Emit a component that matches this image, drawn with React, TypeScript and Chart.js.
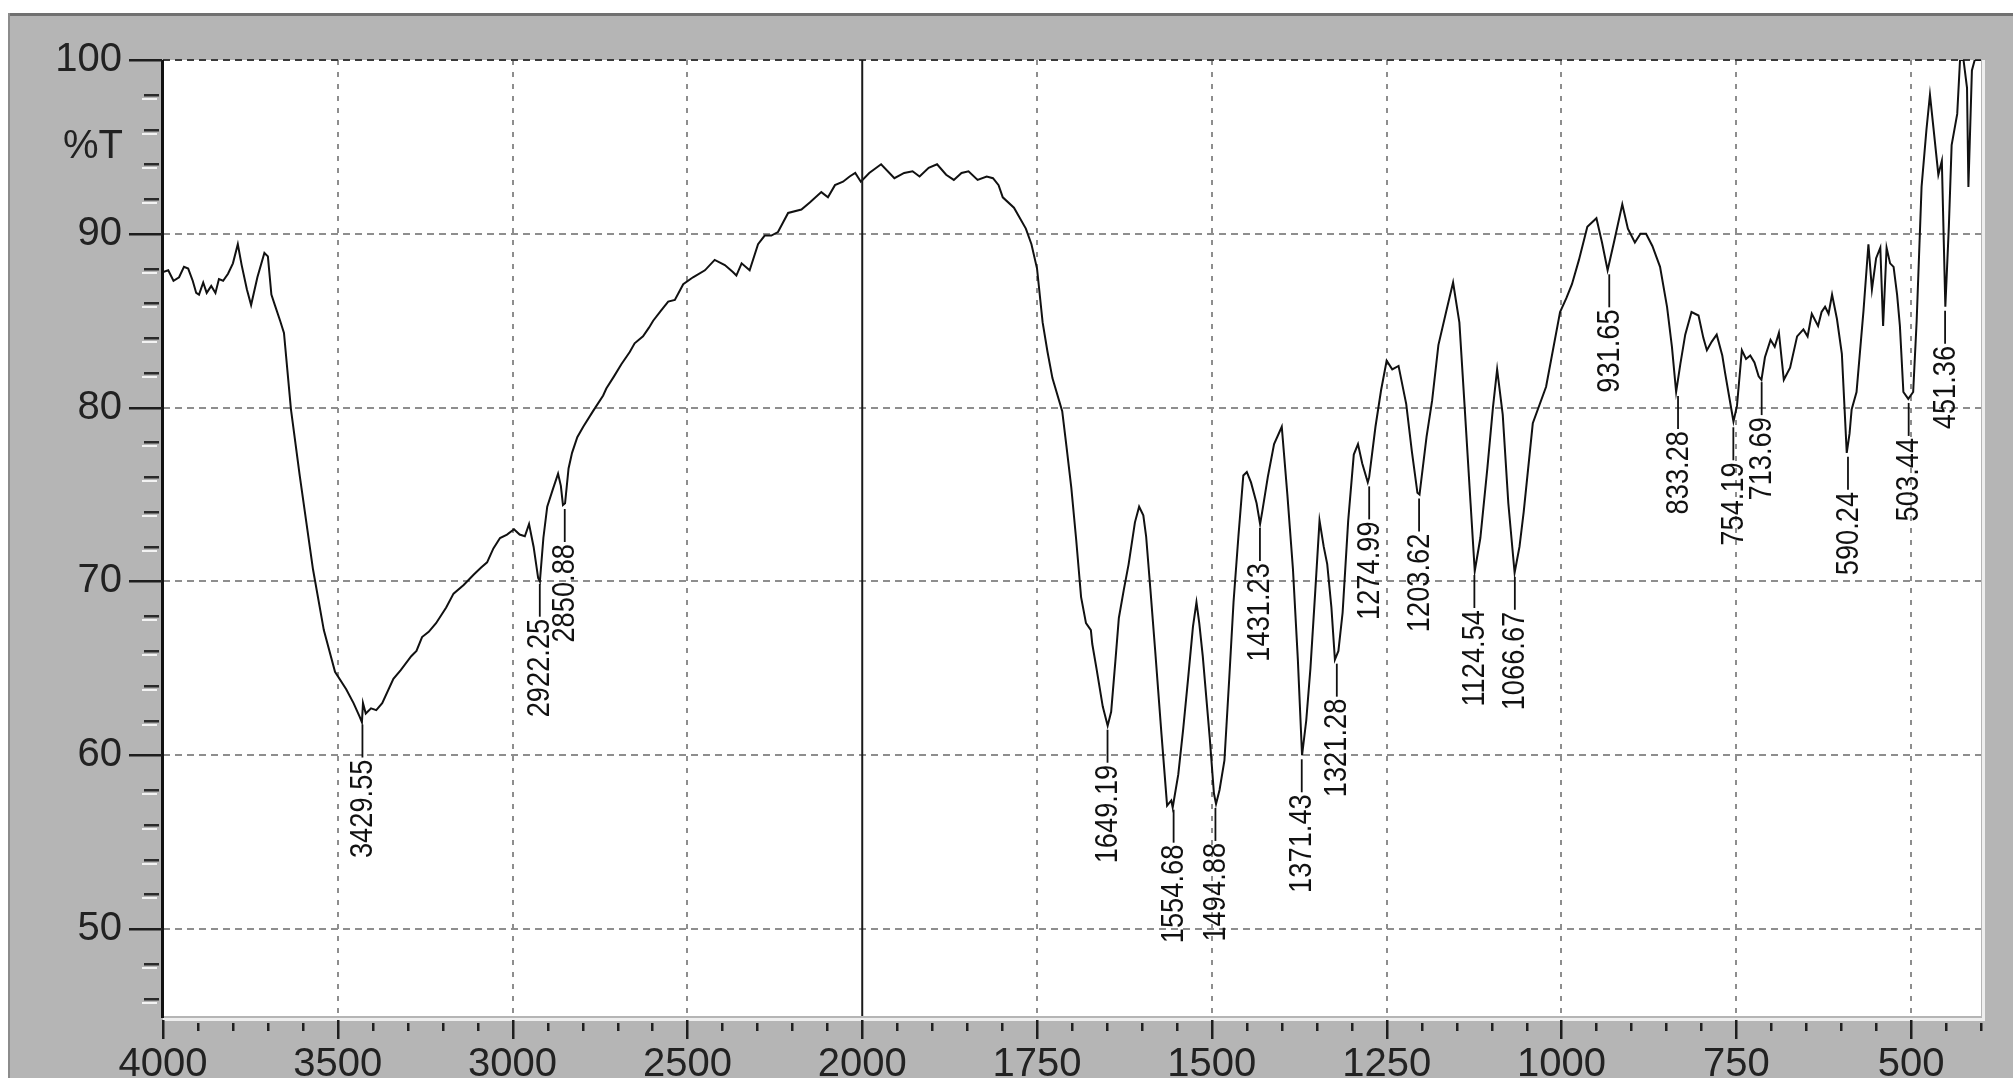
import React, { useEffect, useRef } from "react";
import { Chart, registerables } from "chart.js";

Chart.register(...registerables);

// ---------------- data ----------------
const wavenumbers: number[] = [
  4000, 3985, 3970, 3954, 3940, 3928, 3915, 3905, 3897, 3885, 3875, 3862, 3850, 3840, 3828, 3814, 3800, 3786, 3775, 3760,
  3748, 3730, 3710, 3700, 3690, 3680, 3665, 3654, 3634, 3609, 3590, 3571, 3540, 3508, 3476, 3455, 3437, 3431, 3428, 3420,
  3405, 3390, 3373, 3341, 3320, 3290, 3275, 3259, 3240, 3219, 3190, 3169, 3140, 3111, 3090, 3073, 3055, 3036, 3016, 2996,
  2980, 2965, 2953, 2940, 2927, 2922, 2912, 2901, 2885, 2870, 2862, 2856, 2850, 2840, 2830, 2815, 2798, 2770, 2741, 2732,
  2710, 2689, 2665, 2651, 2627, 2610, 2598, 2575, 2555, 2536, 2512, 2484, 2450, 2422, 2393, 2370, 2360, 2345, 2322, 2298,
  2279, 2260, 2241, 2212, 2174, 2150, 2117, 2098, 2078, 2055, 2036, 2020, 2004,
  1990, 1973, 1954, 1940, 1928, 1918, 1905, 1893, 1880, 1869, 1858, 1848, 1835, 1822, 1813, 1805, 1799, 1783, 1766, 1758,
  1750, 1742, 1735, 1728, 1714, 1708, 1701, 1694, 1687, 1680, 1673, 1671, 1665, 1656, 1649, 1644, 1638, 1633, 1626, 1619,
  1610, 1604, 1598, 1594, 1588, 1581, 1572, 1564, 1558, 1556, 1548, 1541, 1534, 1527, 1522, 1518, 1513, 1503, 1497, 1494,
  1489, 1482, 1475, 1469, 1462, 1455, 1450, 1444, 1436, 1431, 1428, 1420, 1411, 1400, 1392, 1384, 1377, 1371, 1365, 1359,
  1352, 1346, 1340, 1335, 1329, 1324, 1319, 1313, 1305, 1297, 1291, 1285, 1277, 1275, 1266, 1258, 1250, 1242, 1233, 1222,
  1214, 1206, 1203, 1193, 1185, 1176, 1165, 1155, 1146, 1139, 1130, 1124, 1116, 1106, 1098, 1092, 1084, 1076, 1067, 1060,
  1054, 1041, 1022, 1002, 993, 985, 975, 963, 950, 942, 934, 925, 913, 905, 895, 887, 879, 870, 859, 849,
  842, 836, 830, 823, 814, 804, 797, 792, 785, 778, 770, 766, 760, 754, 749, 742, 736, 730, 724, 718,
  714, 709, 701, 695, 689, 682, 673, 663, 654, 648, 642, 633, 628, 623, 618, 613, 606, 599, 592, 588,
  585, 578, 568, 561, 556, 550, 544, 540, 535, 530, 525, 520, 516, 511, 504, 497, 492, 485, 478, 473,
  468, 461, 456, 451, 446, 442, 434, 430, 425, 420, 418, 413, 409, 400,
];

const transmittance: number[] = [
  87.8, 87.9, 87.3, 87.5, 88.1, 88.0, 87.3, 86.6, 86.5, 87.2, 86.6, 87.0, 86.6, 87.4, 87.3, 87.7, 88.3, 89.4, 88.2, 86.8,
  85.9, 87.5, 88.9, 88.7, 86.5, 85.9, 85.0, 84.3, 79.9, 76.1, 73.4, 70.7, 67.2, 64.8, 63.8, 63.0, 62.2, 61.9, 63.0, 62.4,
  62.7, 62.6, 63.0, 64.4, 64.9, 65.7, 66.0, 66.8, 67.1, 67.6, 68.5, 69.3, 69.8, 70.4, 70.8, 71.1, 71.9, 72.5, 72.7, 73.0,
  72.7, 72.6, 73.3, 72.0, 70.2, 70.0, 72.5, 74.3, 75.3, 76.2, 75.5, 74.4, 74.5, 76.5, 77.4, 78.3, 78.9, 79.8, 80.7, 81.1,
  81.8, 82.5, 83.2, 83.7, 84.1, 84.6, 85.0, 85.6, 86.1, 86.2, 87.1, 87.5, 87.9, 88.5, 88.2, 87.8, 87.6, 88.3, 87.9, 89.4,
  89.9, 89.9, 90.1, 91.2, 91.4, 91.8, 92.4, 92.1, 92.8, 93.0, 93.3, 93.5, 93.0,
  93.5, 94.0, 93.2, 93.5, 93.6, 93.3, 93.8, 94.0, 93.4, 93.1, 93.5, 93.6, 93.1, 93.3, 93.2, 92.8, 92.1, 91.5, 90.3, 89.4,
  88.0, 84.9, 83.2, 81.7, 79.8, 77.8, 75.4, 72.4, 69.1, 67.6, 67.2, 66.4, 65.0, 62.8, 61.7, 62.5, 65.4, 67.9, 69.5, 71.0,
  73.4, 74.3, 73.8, 72.6, 69.6, 66.0, 61.2, 57.1, 57.4, 57.0, 58.9, 61.5, 64.4, 67.4, 68.8, 67.6, 65.7, 61.0, 57.8, 57.2,
  58.0, 59.7, 64.5, 68.8, 72.6, 76.1, 76.3, 75.7, 74.5, 73.3, 74.0, 76.0, 77.9, 78.9, 75.0, 70.7, 65.5, 60.0, 62.0, 65.0,
  69.5, 73.5, 72.0, 71.0, 68.5, 65.5, 66.0, 68.2, 73.5, 77.3, 77.9, 76.8, 75.7, 76.0, 78.9, 81.0, 82.7, 82.2, 82.4, 80.2,
  77.5, 75.1, 75.0, 78.3, 80.4, 83.6, 85.5, 87.2, 84.9, 80.4, 74.5, 70.6, 72.5, 76.5, 80.0, 82.2, 79.6, 74.5, 70.5, 72.0,
  74.0, 79.1, 81.2, 85.5, 86.3, 87.1, 88.5, 90.4, 90.9, 89.5, 87.9, 89.5, 91.7, 90.3, 89.5, 90.0, 90.0, 89.3, 88.1, 85.8,
  83.5, 80.9, 82.5, 84.2, 85.5, 85.3, 84.0, 83.3, 83.8, 84.2, 83.0, 82.0, 80.6, 79.2, 80.1, 83.3, 82.8, 83.0, 82.6, 81.8,
  81.6, 82.9, 83.9, 83.5, 84.3, 81.6, 82.3, 84.1, 84.5, 84.1, 85.4, 84.7, 85.5, 85.8, 85.4, 86.5, 85.1, 83.1, 77.4, 78.5,
  79.9, 80.9, 85.6, 89.4, 86.8, 88.6, 89.2, 84.7, 89.2, 88.3, 88.1, 86.5, 84.7, 80.9, 80.5, 80.9, 85.0, 92.7, 96.0, 98.0,
  96.1, 93.4, 94.2, 85.8, 90.4, 95.1, 96.9, 100, 100, 98.4, 92.7, 99.4, 100, 100,
];

const xTickLabels: string[] = ["4000", "3500", "3000", "2500", "2000", "1750", "1500", "1250", "1000", "750", "500"];
const yTickValues: number[] = [50, 60, 70, 80, 90, 100];
const yAxisTitle = "%T";

const peakLabels: string[] = [
  "3429.55", "2922.25", "2850.88", "1649.19", "1554.68", "1494.88", "1431.23", "1371.43", "1321.28", "1274.99",
  "1203.62", "1124.54", "1066.67", "931.65", "833.28", "754.19", "713.69", "590.24", "503.44", "451.36",
];
const peakTransmittance: number[] = [
  62.0, 70.1, 74.4, 61.7, 57.1, 57.2, 73.3, 60.0, 65.5, 75.7,
  75.0, 70.6, 70.5, 87.9, 80.9, 79.1, 81.7, 77.4, 80.5, 85.8,
];

// axis range / break (wavenumbers)
const WN_START = 4000;
const WN_BREAK = 2000;
const WN_END = 400;
const WN_STEP_LEFT = 500;
const WN_STEP_RIGHT = 250;
const MINOR_LEFT = 100;
const MINOR_RIGHT = 50;
const Y_MIN = 45;
const Y_MAX = 100;
const Y_MINOR = 2;
const Y_TITLE_AT = 95;

// piecewise axis: each major interval gets equal width
function toAxis(w: number): number {
  return w >= WN_BREAK
    ? (WN_START - w) / WN_STEP_LEFT
    : (WN_START - WN_BREAK) / WN_STEP_LEFT + (WN_BREAK - w) / WN_STEP_RIGHT;
}

const FONT = "'Liberation Sans', Arial, Helvetica, sans-serif";

const decorPlugin = {
  id: "irDecor",
  beforeDraw(chart: any) {
    const { ctx, chartArea: a } = chart;
    ctx.save();
    ctx.fillStyle = "#ffffff";
    ctx.fillRect(a.left, a.top, a.right - a.left, a.bottom - a.top);
    ctx.fillStyle = "#eeeeee";
    ctx.fillRect(a.right + 1, a.top, 3, a.bottom - a.top + 5);
    ctx.fillRect(a.left, a.bottom + 2, a.right - a.left + 4, 3);
    ctx.restore();
  },
  afterDraw(chart: any) {
    const { ctx, chartArea: a, scales } = chart;
    const xs = scales.x;
    const ys = scales.y;
    ctx.save();

    // break line at 2000
    const xb = xs.getPixelForValue(toAxis(WN_BREAK));
    ctx.strokeStyle = "#1a1a1a";
    ctx.lineWidth = 2;
    ctx.beginPath();
    ctx.moveTo(xb, a.top);
    ctx.lineTo(xb, a.bottom);
    ctx.stroke();

    // y axis line
    ctx.lineWidth = 3;
    ctx.strokeStyle = "#111";
    ctx.beginPath();
    ctx.moveTo(a.left - 0.5, a.top);
    ctx.lineTo(a.left - 0.5, a.bottom + 2);
    ctx.stroke();

    // y ticks
    for (let v = Y_MIN + 1; v <= Y_MAX + 0.001; v += Y_MINOR) {
      const y = Math.round(ys.getPixelForValue(v));
      const major = yTickValues.includes(v);
      if (major) {
        ctx.fillStyle = "#1e1e1e";
        ctx.fillRect(a.left - 34, y - 1, 33, 2.5);
      } else {
        ctx.fillStyle = "#2a2a2a";
        ctx.fillRect(a.left - 19, y - 1, 15, 2.5);
        ctx.fillStyle = "#f2f2f2";
        ctx.fillRect(a.left - 21, y + 3, 15, 2);
      }
    }

    // x ticks
    const xTickWn: number[] = [];
    for (let w = WN_START; w >= WN_BREAK; w -= MINOR_LEFT) xTickWn.push(w);
    for (let w = WN_BREAK - MINOR_RIGHT; w >= WN_END; w -= MINOR_RIGHT) xTickWn.push(w);
    ctx.fillStyle = "#1e1e1e";
    xTickWn.forEach((w) => {
      const x = Math.round(xs.getPixelForValue(toAxis(w)));
      const major = xTickLabels.includes(String(w));
      if (major) ctx.fillRect(x - 1, a.bottom + 4, 2.5, 19);
      else ctx.fillRect(x - 1, a.bottom + 7, 2.5, 8);
    });

    // %T
    ctx.fillStyle = "#222";
    ctx.font = `40px ${FONT}`;
    ctx.textAlign = "right";
    ctx.textBaseline = "middle";
    ctx.fillText(yAxisTitle, a.left - 40, ys.getPixelForValue(Y_TITLE_AT));

    // peak labels (condensed vertical text)
    ctx.font = `31px ${FONT}`;
    ctx.fillStyle = "#111";
    ctx.strokeStyle = "#111";
    ctx.lineWidth = 1.8;
    peakLabels.forEach((lab, i) => {
      const px = xs.getPixelForValue(toAxis(parseFloat(lab)));
      const py = ys.getPixelForValue(peakTransmittance[i]);
      ctx.beginPath();
      ctx.moveTo(px, py + 4);
      ctx.lineTo(px, py + 37);
      ctx.stroke();
      ctx.save();
      ctx.translate(px, py + 39);
      ctx.rotate(-Math.PI / 2);
      ctx.scale(0.88, 1);
      ctx.textAlign = "right";
      ctx.textBaseline = "middle";
      ctx.fillText(lab, 0, 1);
      ctx.restore();
    });

    ctx.restore();
  },
};

export default function App() {
  const canvasRef = useRef<HTMLCanvasElement | null>(null);

  useEffect(() => {
    if (!canvasRef.current) return;
    const points = wavenumbers.map((w, i) => ({ x: toAxis(w), y: transmittance[i] }));
    const gridColor = "#8e8e8e";
    const chart = new Chart(canvasRef.current, {
      type: "line",
      data: {
        datasets: [
          {
            data: points,
            borderColor: "#111",
            borderWidth: 2,
            pointRadius: 0,
            tension: 0,
            fill: false,
          },
        ],
      },
      options: {
        animation: false,
        responsive: true,
        maintainAspectRatio: false,
        layout: { padding: { top: 47, right: 32, left: 0, bottom: 0 } },
        plugins: { legend: { display: false }, tooltip: { enabled: false } },
        scales: {
          x: {
            type: "linear",
            min: 0,
            max: toAxis(WN_END),
            afterBuildTicks: (s: any) => {
              s.ticks = xTickLabels.map((l) => ({ value: toAxis(Number(l)) }));
            },
            afterFit: (s: any) => {
              s.height = 62;
            },
            ticks: {
              autoSkip: false,
              maxRotation: 0,
              padding: 25,
              color: "#222",
              font: { family: FONT, size: 40 },
              callback: (_v: any, i: number) => xTickLabels[i],
            },
            grid: {
              drawTicks: false,
              lineWidth: 2,
              color: (c: any) => {
                const v = c.tick ? c.tick.value : -1;
                return v === toAxis(WN_START) || v === toAxis(WN_BREAK) ? "rgba(0,0,0,0)" : gridColor;
              },
            },
            border: { display: false, dash: [5, 7] },
          },
          y: {
            type: "linear",
            min: Y_MIN,
            max: Y_MAX,
            afterBuildTicks: (s: any) => {
              s.ticks = yTickValues.map((v) => ({ value: v }));
            },
            afterFit: (s: any) => {
              s.width = 155;
            },
            ticks: {
              padding: 0,
              color: "#222",
              font: { family: FONT, size: 40 },
              callback: (v: any) => String(v),
            },
            grid: {
              drawTicks: true,
              tickLength: 41,
              tickColor: "rgba(0,0,0,0)",
              lineWidth: 2,
              color: (c: any) => (c.tick && c.tick.value === Y_MAX ? "#3a3a3a" : gridColor),
            },
            border: { display: false, dash: [7, 5] },
          },
        },
      },
      plugins: [decorPlugin],
    });
    return () => chart.destroy();
  }, []);

  return (
    <div
      style={{
        position: "fixed",
        left: 8,
        top: 13,
        right: 0,
        bottom: 0,
        background: "#b5b5b5",
        overflow: "hidden",
      }}
    >
      <div style={{ position: "absolute", left: 0, top: 0, width: 2005, height: 1065 }}>
        <canvas ref={canvasRef} />
      </div>
      <div style={{ position: "absolute", left: 0, top: 0, right: 0, height: 3, background: "#707070" }} />
      <div style={{ position: "absolute", left: 0, top: 0, bottom: 0, width: 2, background: "#8c8c8c" }} />
    </div>
  );
}
